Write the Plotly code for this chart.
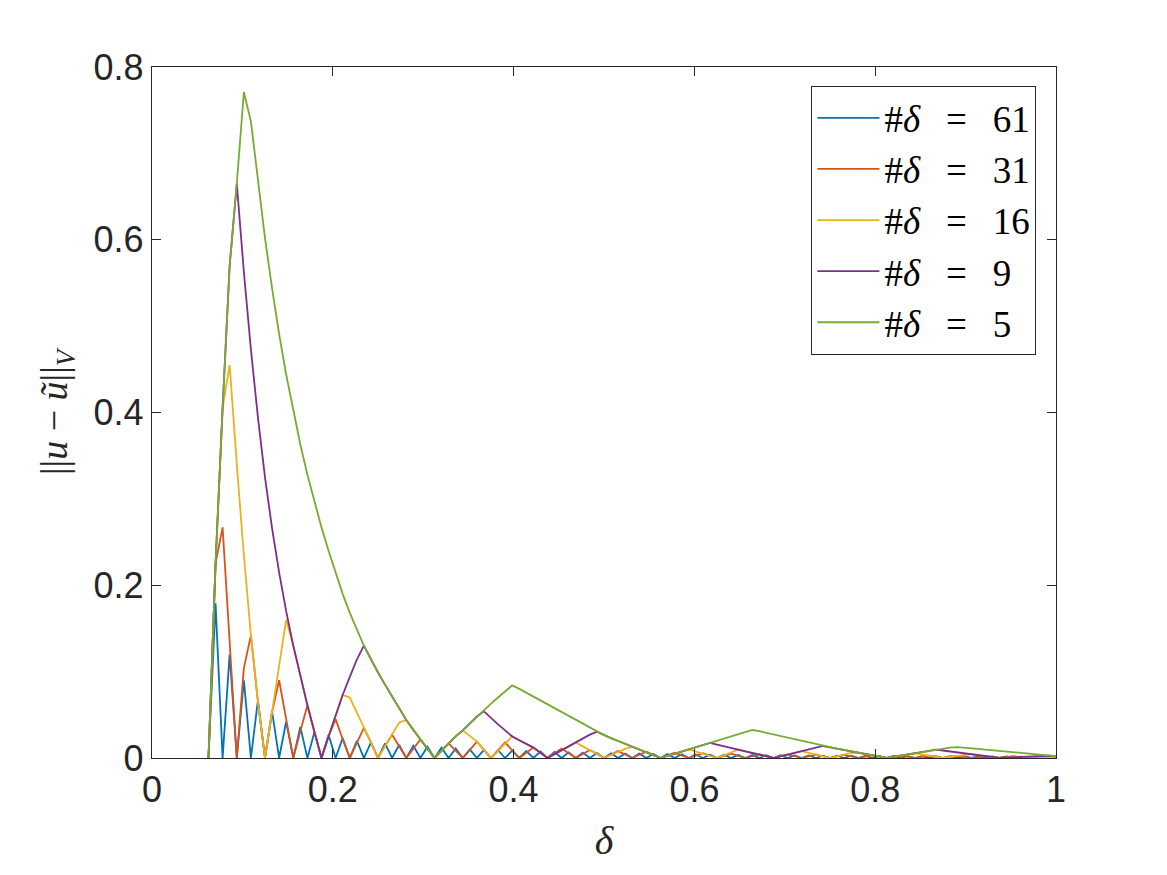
import plotly.graph_objects as go

# sampling grid of delta (step 1/128 from 1/16 to 1)
delta = [0.0625,
         0.0703, 0.0781, 0.0859, 0.0938, 0.1016, 0.1094, 0.1172, 0.1250,
         0.1328, 0.1406, 0.1484, 0.1563, 0.1641, 0.1719, 0.1797, 0.1875,
         0.1953, 0.2031, 0.2109, 0.2188, 0.2266, 0.2344, 0.2422, 0.2500,
         0.2578, 0.2656, 0.2734, 0.2813, 0.2891, 0.2969, 0.3047, 0.3125,
         0.3203, 0.3281, 0.3359, 0.3438, 0.3516, 0.3594, 0.3672, 0.3750,
         0.3828, 0.3906, 0.3984, 0.4063, 0.4141, 0.4219, 0.4297, 0.4375,
         0.4453, 0.4531, 0.4609, 0.4688, 0.4766, 0.4844, 0.4922, 0.5000,
         0.5078, 0.5156, 0.5234, 0.5313, 0.5391, 0.5469, 0.5547, 0.5625,
         0.5703, 0.5781, 0.5859, 0.5938, 0.6016, 0.6094, 0.6172, 0.6250,
         0.6328, 0.6406, 0.6484, 0.6563, 0.6641, 0.6719, 0.6797, 0.6875,
         0.6953, 0.7031, 0.7109, 0.7188, 0.7266, 0.7344, 0.7422, 0.7500,
         0.7578, 0.7656, 0.7734, 0.7813, 0.7891, 0.7969, 0.8047, 0.8125,
         0.8203, 0.8281, 0.8359, 0.8438, 0.8516, 0.8594, 0.8672, 0.8750,
         0.8828, 0.8906, 0.8984, 0.9063, 0.9141, 0.9219, 0.9297, 0.9375,
         0.9453, 0.9531, 0.9609, 0.9688, 0.9766, 0.9844, 0.9922, 1.0000]

err_61 = [0,
          0.179, 0, 0.12, 0, 0.09, 0, 0.067, 0,
          0.054, 0, 0.042, 0, 0.036, 0, 0.030, 0,
          0.027, 0, 0.023, 0, 0.020, 0, 0.018, 0,
          0.017, 0, 0.015, 0, 0.014, 0, 0.013, 0,
          0.012, 0, 0.011, 0, 0.010, 0, 0.0095, 0,
          0.009, 0, 0.0085, 0, 0.008, 0, 0.0075, 0,
          0.007, 0, 0.0066, 0, 0.0062, 0, 0.0058, 0,
          0.0055, 0, 0.0052, 0, 0.005, 0, 0.0047, 0,
          0.0045, 0, 0.0043, 0, 0.0041, 0, 0.0039, 0,
          0.0037, 0, 0.0035, 0, 0.0034, 0, 0.0033, 0,
          0.0031, 0, 0.003, 0, 0.0029, 0, 0.0028, 0,
          0.0027, 0, 0.0026, 0, 0.0025, 0, 0.0024, 0,
          0.0023, 0, 0.0022, 0, 0.0021, 0, 0.002, 0,
          0.002, 0, 0.0019, 0, 0.0018, 0, 0.0018, 0,
          0.0017, 0, 0.0016, 0, 0.0016, 0, 0.0015, 0]

err_31 = [0,
          0.225, 0.267, 0.133, 0, 0.104, 0.142, 0.065, 0,
          0.053, 0.090, 0.045, 0, 0.031, 0.061, 0.030, 0,
          0.025, 0.045, 0.022, 0, 0.0175, 0.035, 0.018, 0,
          0.014, 0.027, 0.0135, 0, 0.0107, 0.0215, 0.0107, 0,
          0.0085, 0.017, 0.0085, 0, 0.0095, 0.019, 0.0095, 0,
          0.009, 0.018, 0.009, 0, 0.006, 0.012, 0.006, 0,
          0.0055, 0.011, 0.0055, 0, 0.0047, 0.0093, 0.0047, 0,
          0.004, 0.008, 0.004, 0, 0.0037, 0.0073, 0.0037, 0,
          0.003, 0.006, 0.003, 0, 0.0028, 0.0055, 0.0028, 0,
          0.0025, 0.005, 0.0025, 0, 0.0023, 0.0045, 0.0023, 0,
          0.0021, 0.0042, 0.0021, 0, 0.002, 0.004, 0.002, 0,
          0.0018, 0.0035, 0.0018, 0, 0.0016, 0.0032, 0.0016, 0,
          0.0015, 0.003, 0.0015, 0, 0.0014, 0.0027, 0.0014, 0,
          0.0013, 0.0025, 0.0013, 0, 0.0011, 0.0022, 0.0011, 0,
          0.001, 0.002, 0.001, 0, 0.0009, 0.0017, 0.0009, 0]

err_16 = [0,
          0.225, 0.405, 0.455, 0.340, 0.235, 0.142, 0.065, 0,
          0.053, 0.106, 0.160, 0.130, 0.094, 0.061, 0.030, 0,
          0.025, 0.050, 0.073, 0.070, 0.053, 0.035, 0.018, 0,
          0.014, 0.028, 0.041, 0.044, 0.0325, 0.0215, 0.0107, 0,
          0.0085, 0.017, 0.025, 0.032, 0.026, 0.019, 0.0095, 0,
          0.008, 0.016, 0.025, 0.0205, 0.016, 0.012, 0.006, 0,
          0.0045, 0.009, 0.0135, 0.018, 0.0135, 0.009, 0.0045, 0,
          0.0035, 0.007, 0.0105, 0.0131, 0.0098, 0.0066, 0.0033, 0,
          0.0025, 0.005, 0.0075, 0.010, 0.0075, 0.005, 0.0025, 0,
          0.0032, 0.0065, 0.0097, 0.0077, 0.0058, 0.0039, 0.0019, 0,
          0.002, 0.004, 0.006, 0.008, 0.006, 0.004, 0.002, 0,
          0.002, 0.004, 0.006, 0.0062, 0.0046, 0.0031, 0.0015, 0,
          0.0014, 0.0028, 0.0042, 0.0056, 0.0042, 0.0028, 0.0014, 0,
          0.0012, 0.0024, 0.0036, 0.0044, 0.0033, 0.0022, 0.0011, 0,
          0.0004, 0.0008, 0.0012, 0.0016, 0.0012, 0.0008, 0.0004, 0]

err_9 = [0,
         0.225, 0.405, 0.570, 0.665, 0.563, 0.473, 0.394, 0.325,
         0.266, 0.215, 0.170, 0.130, 0.094, 0.061, 0.030, 0,
         0.025, 0.050, 0.073, 0.094, 0.114, 0.130, 0.114, 0.099,
         0.085, 0.071, 0.057, 0.044, 0.0325, 0.0215, 0.0107, 0,
         0.0085, 0.017, 0.025, 0.032, 0.040, 0.048, 0.054, 0.046,
         0.039, 0.032, 0.025, 0.0205, 0.016, 0.012, 0.006, 0,
         0.0045, 0.009, 0.0135, 0.018, 0.0225, 0.027, 0.0305, 0.0265,
         0.023, 0.0197, 0.0164, 0.0131, 0.0098, 0.0066, 0.0033, 0,
         0.0025, 0.005, 0.0075, 0.010, 0.0124, 0.0149, 0.0174, 0.0155,
         0.0135, 0.0116, 0.0097, 0.0077, 0.0058, 0.0039, 0.0019, 0,
         0.002, 0.004, 0.006, 0.008, 0.010, 0.012, 0.0139, 0.0124,
         0.0108, 0.0093, 0.0077, 0.0062, 0.0046, 0.0031, 0.0015, 0,
         0.0014, 0.0028, 0.0042, 0.0056, 0.007, 0.0084, 0.0098, 0.0087,
         0.0076, 0.0065, 0.0054, 0.0044, 0.0033, 0.0022, 0.0011, 0,
         0.0004, 0.0008, 0.0012, 0.0016, 0.002, 0.0024, 0.0026, 0.002]

err_5 = [0,
         0.225, 0.405, 0.570, 0.665, 0.771, 0.737, 0.666, 0.602,
         0.544, 0.491, 0.444, 0.401, 0.363, 0.328, 0.296, 0.267,
         0.240, 0.214, 0.190, 0.168, 0.148, 0.130, 0.114, 0.099,
         0.085, 0.071, 0.057, 0.044, 0.0325, 0.0215, 0.0107, 0,
         0.0085, 0.017, 0.025, 0.032, 0.040, 0.048, 0.055, 0.063,
         0.070, 0.077, 0.084, 0.080, 0.0755, 0.071, 0.0665, 0.062,
         0.0575, 0.053, 0.0485, 0.044, 0.0395, 0.035, 0.0305, 0.0265,
         0.023, 0.0197, 0.0164, 0.0131, 0.0098, 0.0066, 0.0033, 0,
         0.0025, 0.005, 0.0075, 0.010, 0.0124, 0.0149, 0.0174, 0.0199,
         0.0224, 0.0249, 0.0274, 0.0299, 0.0324, 0.031, 0.0291, 0.0272,
         0.0253, 0.0234, 0.0215, 0.0196, 0.0177, 0.0158, 0.0139, 0.0124,
         0.0108, 0.0093, 0.0077, 0.0062, 0.0046, 0.0031, 0.0015, 0,
         0.0014, 0.0028, 0.0042, 0.0056, 0.007, 0.0084, 0.0098, 0.011,
         0.012, 0.0127, 0.0122, 0.0114, 0.0106, 0.0098, 0.009, 0.0082,
         0.0074, 0.0066, 0.0058, 0.005, 0.0042, 0.0034, 0.0026, 0.002]

counts = ["61", "31", "16", "9", "5"]
series_names = ["#<i>δ</i>\u2002\u2009=\u2002\u2009" + c for c in counts]
series_values = [err_61, err_31, err_16, err_9, err_5]
series_colors = ["#0072BD", "#D95319", "#EDB120", "#7E2F8E", "#77AC30"]

x_ticks = [0, 0.2, 0.4, 0.6, 0.8, 1]
x_tick_text = ["0", "0.2", "0.4", "0.6", "0.8", "1"]
y_ticks = [0, 0.2, 0.4, 0.6, 0.8]
y_tick_text = ["0", "0.2", "0.4", "0.6", "0.8"]

fig = go.Figure()
for name, vals, col in zip(series_names, series_values, series_colors):
    fig.add_trace(go.Scatter(x=delta, y=vals, mode="lines", name=name,
                             line=dict(color=col, width=1.8)))

axis_style = dict(showline=True, linecolor="#262626", linewidth=1.3,
                  mirror="ticks", ticks="inside", ticklen=9, tickwidth=1.3,
                  tickcolor="#262626", showgrid=False, zeroline=False,
                  tickfont=dict(family="Liberation Sans, Arial", size=36,
                                color="#262626"))

fig.update_xaxes(range=[0, 1], tickvals=x_ticks, ticktext=x_tick_text,
                 title=dict(text="<i>δ</i>", standoff=16,
                            font=dict(family="Liberation Serif, serif",
                                      size=40, color="#262626")),
                 **axis_style)
fig.update_yaxes(range=[0, 0.8], tickvals=y_ticks, ticktext=y_tick_text,
                 title=dict(text="||<i>u</i> − <i>ũ</i>||<sub><i>V</i></sub>",
                            standoff=14,
                            font=dict(family="Liberation Serif, serif",
                                      size=38, color="#262626")),
                 **axis_style)

fig.update_layout(
    width=1167, height=875,
    margin=dict(l=152, r=111, t=67, b=117, autoexpand=False),
    plot_bgcolor="white", paper_bgcolor="white",
    legend=dict(x=0.978, y=0.9725, xanchor="right", yanchor="top",
                bgcolor="white", bordercolor="#262626", borderwidth=1.3,
                font=dict(family="Liberation Serif, serif", size=37,
                          color="black"),
                tracegroupgap=0, itemwidth=62),
    showlegend=True,
)

fig.write_html("out.html")
